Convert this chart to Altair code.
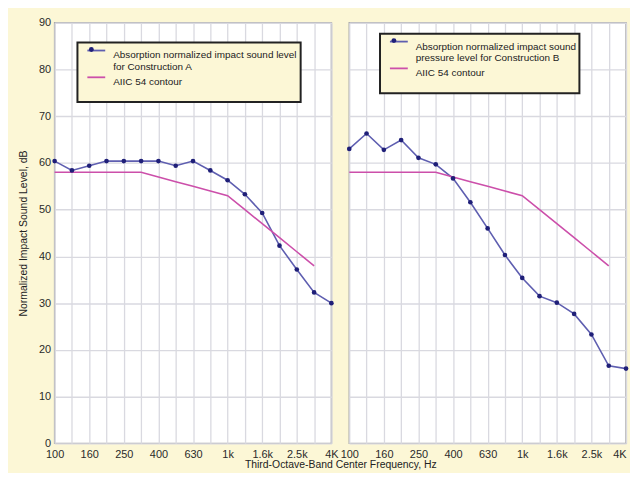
import altair as alt
import pandas as pd

# third-octave band centre frequencies (categories)
freqs = ["100", "125", "160", "200", "250", "315", "400", "500", "630",
         "800", "1k", "1.25k", "1.6k", "2k", "2.5k", "3.15k", "4K"]
tick_labels = ["100", "160", "250", "400", "630", "1k", "1.6k", "2.5k", "4K"]

# absorption-normalized impact sound level, dB
level_a = [60.4, 58.4, 59.4, 60.4, 60.4, 60.4, 60.4, 59.4, 60.4,
           58.4, 56.3, 53.3, 49.3, 42.3, 37.2, 32.3, 30.0]
level_b = [63.0, 66.3, 62.8, 64.9, 61.1, 59.7, 56.7, 51.6, 46.0,
           40.3, 35.4, 31.5, 30.1, 27.7, 23.3, 16.6, 16.0]

# AIIC 54 reference contour
contour_freqs = freqs[:16]
contour_aiic54 = [58, 58, 58, 58, 58, 58, 57, 56, 55, 54, 53, 50, 47, 44, 41, 38]

name_a = "Absorption normalized impact sound level\nfor Construction A"
name_b = "Absorption normalized impact sound\npressure level for Construction B"
name_c = "AIIC 54 contour"

BLUE = "#5E5EB0"
NAVY = "#1F1F78"
PINK = "#CC4FAA"
BG = "#FCF7D6"
GRID = "#D9D9E0"
FONT = "Liberation Sans"

PAD = 3                     # legend inner padding
SYM = 16                    # legend symbol size -> unit = 2 px
LINE_SYMBOL = "M1,0H10"     # 18 px line, shifted right inside the entry
NB = "\u00a0"
LAST = len(freqs) - 1


def frame(levels, name):
    rows = [{"freq": f, "idx": freqs.index(f), "level": v, "series": name, "kind": "data"}
            for f, v in zip(freqs, levels)]
    rows += [{"freq": f, "idx": freqs.index(f), "level": v, "series": name_c, "kind": "contour"}
             for f, v in zip(contour_freqs, contour_aiic54)]
    return pd.DataFrame(rows)


label_arr = "[" + ",".join("'" + t + "'" for t in tick_labels) + "]"
x_label_expr = "datum.value % 2 === 0 ? " + label_arr + "[datum.value / 2] : ''"
legend_expr = ("indexof(datum.label, '\\n') < 0 ? [datum.label, '" + NB + "'] : "
               "split(datum.label, '\\n')")


def panel(df, name, show_y, lx, ly, flush_last):
    x_axis = dict(values=list(range(len(freqs))), labelExpr=x_label_expr,
                  title=None, ticks=False, domain=False, grid=True,
                  labelPadding=5, labelFlush=False)
    if flush_last:
        x_axis["labelAlign"] = {"condition": {"test": "datum.value === %d" % LAST,
                                              "value": "right"},
                                "value": "center"}
    x = alt.X("idx:Q",
              scale=alt.Scale(domain=[0, LAST], nice=False, zero=False),
              axis=alt.Axis(**x_axis))
    y = alt.Y("level:Q",
              scale=alt.Scale(domain=[0, 90], nice=False),
              axis=alt.Axis(values=list(range(0, 91, 10)),
                            title="Normalized Impact Sound Level, dB" if show_y else None,
                            labels=show_y, ticks=False, domain=False, grid=True,
                            labelPadding=4, titlePadding=10))
    color = alt.Color("series:N",
                      scale=alt.Scale(domain=[name, name_c], range=[BLUE, PINK]),
                      legend=alt.Legend(orient="none", legendX=lx, legendY=ly, title=None,
                                        labelExpr=legend_expr,
                                        labelBaseline="top", labelOffset=23,
                                        symbolType=LINE_SYMBOL, symbolSize=SYM,
                                        symbolStrokeWidth=1.8, zindex=0))
    # marker glyph overlaid on the first legend entry
    dot = alt.Fill("series:N",
                   scale=alt.Scale(domain=[name], range=[NAVY]),
                   legend=alt.Legend(orient="none", legendX=lx + 9, legendY=ly + 2,
                                     title=None, labelExpr="''",
                                     padding=0, fillColor="transparent",
                                     strokeColor="transparent", symbolType="circle",
                                     symbolSize=24, symbolStrokeWidth=0, zindex=1))
    lines = alt.Chart(df).mark_line(strokeWidth=1.6).encode(x=x, y=y, color=color)
    pts = alt.Chart(df).transform_filter("datum.kind === 'data'").mark_circle(
        size=22, opacity=1).encode(x=x, y=y, fill=dot)
    return alt.layer(lines, pts)


left = panel(frame(level_a, name_a), name_a, True, 23, 20, False).properties(
    width=279, height=424)
right = panel(frame(level_b, name_b), name_b, False, 31, 11, True).properties(
    width=279, height=424)

chart = alt.hconcat(left, right, spacing=18, bounds="flush").resolve_scale(
    color="independent", fill="independent").properties(
    title=alt.TitleParams("Third-Octave-Band Center Frequency, Hz", orient="bottom",
                          anchor="middle", frame="bounds", dx=17, fontSize=10.5,
                          fontWeight="normal", font=FONT, color="#222", offset=0),
    padding={"left": 10, "top": 6, "right": 0, "bottom": 0},
).configure(background=BG).configure_view(
    fill="white", stroke="#A8A8A8", strokeWidth=1.5
).configure_axis(
    gridColor=GRID, gridWidth=1.3, labelFont=FONT, labelFontSize=11, labelColor="#2A2A2A",
    titleFont=FONT, titleFontSize=10.5, titleFontWeight="normal", titleColor="#222"
).configure_legend(
    fillColor=BG, strokeColor="#222", strokeWidth=2, padding=PAD, rowPadding=0,
    labelFont=FONT, labelFontSize=10, labelColor="#222", labelLimit=400
)

chart.save("out.html", embed_options={"renderer": "svg", "actions": False})
